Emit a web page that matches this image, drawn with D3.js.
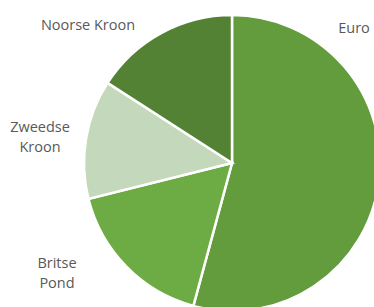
<!DOCTYPE html>
<html>
<head>
<meta charset="utf-8">
<script src="https://cdn.jsdelivr.net/npm/d3@7"></script>
<style>
  body { margin: 0; background: #fff; }
  svg text { font-family: "Open Sans", "Noto Sans", sans-serif; fill: #595959; }
</style>
</head>
<body>
<div id="chart"></div>
<script>
// data
var currencies = ["Euro", "Britse Pond", "Zweedse Kroon", "Noorse Kroon"]
var shares = [54.2, 16.9, 13.0, 15.9]
var sliceColors = ["#629c3c", "#6dab45", "#c4d9bc", "#548235"]

// label placement (layout, not data)
var labelLines = [["Euro"], ["Britse", "Pond"], ["Zweedse", "Kroon"], ["Noorse Kroon"]]
var labelPos = [[354, 33], [57, 268], [40, 132], [88, 30]]

var width = 374
var height = 307
var cx = 232
var cy = 163
var radius = 148

var svg = d3.select("#chart")
  .append("svg")
  .attr("width", width)
  .attr("height", height)

var g = svg.append("g")
  .attr("transform", "translate(" + cx + "," + cy + ")")

var pie = d3.pie()
  .sort(null)
  .value(function(d) { return d })

var arcGenerator = d3.arc()
  .innerRadius(0)
  .outerRadius(radius)

var data_ready = pie(shares)

g.selectAll("path")
  .data(data_ready)
  .enter()
  .append("path")
  .attr("d", arcGenerator)
  .attr("fill", function(d, i) { return sliceColors[i] })
  .attr("stroke", "#fff")
  .style("stroke-width", "2.5px")

// labels
var labels = svg.selectAll("text.lbl")
  .data(currencies)
  .enter()
  .append("text")
  .attr("class", "lbl")
  .attr("text-anchor", "middle")
  .style("font-size", "14.5px")

labels.each(function(d, i) {
  var t = d3.select(this)
  labelLines[i].forEach(function(line, j) {
    t.append("tspan")
      .attr("x", labelPos[i][0])
      .attr("y", labelPos[i][1] + j * 20)
      .text(line)
  })
})
</script>
</body>
</html>
